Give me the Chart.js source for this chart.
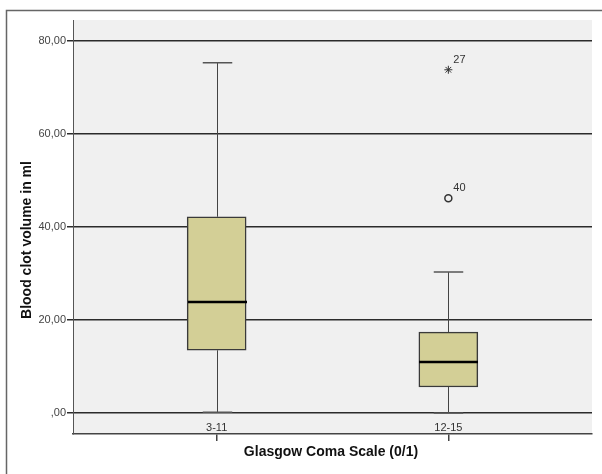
<!DOCTYPE html>
<html lang="en">
  <head>
    <meta charset="UTF-8" />
    <title>Blood clot volume by GCS</title>
    <script src="https://cdn.jsdelivr.net/npm/chart.js"></script>
    <style>
      html, body { margin: 0; padding: 0; background: #fff; }
      #wrap { width: 602px; height: 474px; position: relative; }
    </style>
  </head>
  <body>
    <div id="wrap"><canvas id="myChart"></canvas></div>

    <script>
      // DATA
      const groups = ['3-11', '12-15'];
      const whiskerLow = [0.2, 0.0];
      const q1 = [13.5, 5.6];
      const median = [23.9, 11.0];
      const q3 = [42.2, 17.4];
      const whiskerHigh = [75.3, 30.3];

      const outlierGroup = [1, 1];
      const outlierValue = [73.8, 46.2];
      const outlierCase = ['27', '40'];
      const outlierExtreme = [true, false];

      const yTicks = [0, 20, 40, 60, 80];

      const lineColor = '#2b2b2b';
      const fontFam = '"Liberation Sans", Arial, sans-serif';

      // box bodies as floating bars
      const boxData = groups.map((g, i) => ({ x: i, y: [q1[i], q3[i]] }));
      const starData = [];
      const circleData = [];
      outlierValue.forEach((v, i) => {
        const p = { x: outlierGroup[i], y: v, label: outlierCase[i] };
        if (outlierExtreme[i]) starData.push(p); else circleData.push(p);
      });

      // background of plot + outer frame + titles
      const frame = {
        id: 'frame',
        beforeDraw(chart) {
          const { ctx, chartArea: a } = chart;
          ctx.save();
          ctx.fillStyle = '#f0f0f0';
          ctx.fillRect(a.left, a.top, a.right - a.left, a.bottom - a.top);
          ctx.strokeStyle = '#666';
          ctx.lineWidth = 1.5;
          ctx.beginPath();
          ctx.moveTo(6.5, 474);
          ctx.lineTo(6.5, 10.5);
          ctx.lineTo(602, 10.5);
          ctx.stroke();
          ctx.restore();
        },
        afterDraw(chart) {
          const { ctx, scales } = chart;
          ctx.save();
          // category labels sit just above the x axis line (SPSS style)
          ctx.fillStyle = '#333';
          ctx.font = '11px ' + fontFam;
          ctx.textAlign = 'center';
          ctx.textBaseline = 'middle';
          groups.forEach((g, i) => {
            ctx.fillText(g, scales.x.getPixelForValue(i), 428);
          });
          ctx.fillStyle = '#111';
          ctx.font = 'bold 14px ' + fontFam;
          ctx.fillText('Glasgow Coma Scale (0/1)', 331, 452);
          ctx.translate(27, 240);
          ctx.rotate(-Math.PI / 2);
          ctx.fillText('Blood clot volume in ml', 0, 0);
          ctx.restore();
        }
      };

      // whiskers, caps, medians, outlier case numbers
      const boxParts = {
        id: 'boxParts',
        afterDatasetsDraw(chart) {
          const { ctx, scales } = chart;
          const xs = scales.x, ys = scales.y;
          const bars = chart.getDatasetMeta(0).data;
          ctx.save();
          groups.forEach((g, i) => {
            const cx = Math.round(xs.getPixelForValue(i)) + 0.5;
            const w = bars[i].width;
            ctx.strokeStyle = '#444';
            ctx.lineWidth = 1;
            ctx.beginPath();
            ctx.moveTo(cx, ys.getPixelForValue(q3[i]));
            ctx.lineTo(cx, ys.getPixelForValue(whiskerHigh[i]));
            ctx.moveTo(cx, ys.getPixelForValue(q1[i]));
            ctx.lineTo(cx, ys.getPixelForValue(whiskerLow[i]));
            ctx.stroke();
            ctx.lineWidth = 1.5;
            ctx.strokeStyle = '#555';
            ctx.beginPath();
            ctx.moveTo(cx - w / 4, ys.getPixelForValue(whiskerHigh[i]));
            ctx.lineTo(cx + w / 4, ys.getPixelForValue(whiskerHigh[i]));
            ctx.moveTo(cx - w / 4, ys.getPixelForValue(whiskerLow[i]));
            ctx.lineTo(cx + w / 4, ys.getPixelForValue(whiskerLow[i]));
            ctx.stroke();
            ctx.strokeStyle = '#000';
            ctx.lineWidth = 2.5;
            ctx.beginPath();
            ctx.moveTo(cx - w / 2, ys.getPixelForValue(median[i]));
            ctx.lineTo(cx + w / 2, ys.getPixelForValue(median[i]));
            ctx.stroke();
          });
          ctx.fillStyle = '#333';
          ctx.font = '11px ' + fontFam;
          ctx.textAlign = 'left';
          ctx.textBaseline = 'middle';
          [1, 2].forEach(d => {
            const ds = chart.data.datasets[d];
            chart.getDatasetMeta(d).data.forEach((pt, k) => {
              ctx.fillText(ds.data[k].label, pt.x + 5, pt.y - 10);
            });
          });
          ctx.restore();
        }
      };

      const config = {
        type: 'bar',
        data: {
          datasets: [
            {
              label: 'box',
              data: boxData,
              backgroundColor: '#d3cf96',
              borderColor: '#3a3a3a',
              borderWidth: 1.5,
              borderSkipped: false,
              barThickness: 59,
              order: 2
            },
            {
              type: 'scatter',
              label: 'extreme',
              data: starData,
              pointStyle: 'star',
              radius: 4,
              borderColor: '#333',
              borderWidth: 1,
              order: 1
            },
            {
              type: 'scatter',
              label: 'outlier',
              data: circleData,
              pointStyle: 'circle',
              radius: 3.5,
              backgroundColor: 'rgba(0,0,0,0)',
              borderColor: '#333',
              borderWidth: 1.5,
              order: 1
            }
          ]
        },
        options: {
          responsive: true,
          maintainAspectRatio: false,
          animation: false,
          layout: { padding: { top: 20, right: 10, left: 0, bottom: 0 } },
          plugins: {
            legend: { display: false },
            tooltip: { enabled: false }
          },
          scales: {
            x: {
              type: 'linear',
              offset: false,
              min: -0.62,
              max: 1.62,
              afterBuildTicks: s => { s.ticks = groups.map((g, i) => ({ value: i })); },
              afterFit: s => { s.height = 40; },
              grid: {
                offset: false,
                drawOnChartArea: false,
                drawTicks: true,
                tickLength: 7,
                color: '#444',
                lineWidth: 1.5
              },
              border: { display: true, color: '#444', width: 1.5 },
              ticks: { display: false }
            },
            y: {
              min: -4.5,
              max: 84.5,
              afterBuildTicks: s => { s.ticks = yTicks.map(v => ({ value: v })); },
              afterFit: s => { s.width = 73; },
              grid: {
                color: lineColor,
                lineWidth: 1.5,
                tickLength: 6
              },
              border: { display: true, color: '#555', width: 1 },
              ticks: {
                callback: v => (v === 0 ? ',00' : v.toFixed(2).replace('.', ',')),
                padding: 1,
                color: '#444',
                font: { family: fontFam, size: 11 }
              }
            }
          }
        },
        plugins: [frame, boxParts]
      };

      let myChart = new Chart(document.getElementById('myChart'), config);
    </script>
  </body>
</html>
